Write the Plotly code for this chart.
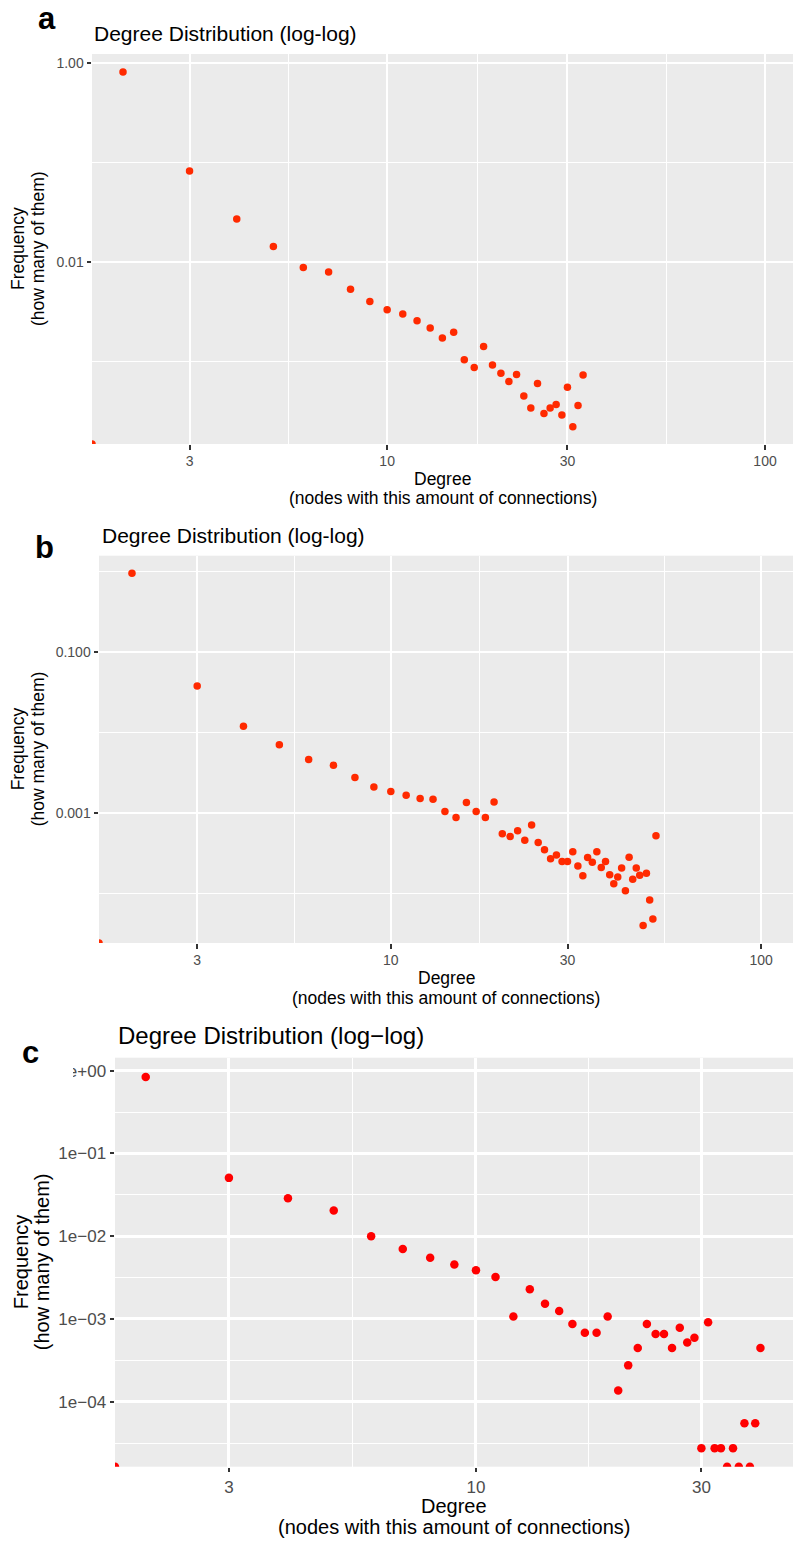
import numpy as np
import plotly.graph_objects as go

# ---- degree distributions (degree, relative frequency); 0 means "no nodes" ----
deg_a = [0, 2, 3, 4, 5, 6, 7, 8, 9, 10, 11, 12, 13, 14, 15, 16, 17, 18, 19, 20,
         21, 22, 23, 24, 25, 26, 27, 28, 29, 30, 31, 32, 33]
freq_a = [0, 0.81, 0.082, 0.027, 0.0143, 0.0088, 0.0079, 0.0053, 0.0040, 0.0033,
          0.0030, 0.00257, 0.00217, 0.00172, 0.00196, 0.00104, 0.00087, 0.00141,
          0.00092, 0.00076, 0.00063, 0.00074, 0.00045, 0.00034, 0.00060, 0.00030,
          0.00034, 0.00037, 0.00029, 0.00055, 0.00022, 0.00036, 0.00073]

deg_b = [0, 2, 3, 4, 5, 6, 7, 8, 9, 10, 11, 12, 13, 14, 15, 16, 17, 18, 19, 20,
         21, 22, 23, 24, 25, 26, 27, 28, 29, 30, 31, 32, 33, 34, 35, 36, 37, 38,
         39, 40, 41, 42, 43, 44, 45, 46, 47, 48, 49, 50, 51, 52]
freq_b = [0, 0.936, 0.0376, 0.0119, 0.0070, 0.0046, 0.0039, 0.00275, 0.0021,
          0.00184, 0.00166, 0.00151, 0.00148, 0.00104, 0.00088, 0.00135, 0.00104,
          0.00088, 0.00137, 0.00055, 0.00051, 0.00060, 0.00046, 0.00071, 0.00043,
          0.00035, 0.00027, 0.00030, 0.00025, 0.00025, 0.00033, 0.00022, 0.000166,
          0.00028, 0.000245, 0.00033, 0.00021, 0.00025, 0.000171, 0.000132,
          0.000161, 0.000207, 0.000108, 0.000283, 0.000151, 0.000207, 0.000169,
          0.0000403, 0.000179, 0.000083, 0.0000483, 0.00052]

deg_c = [0, 2, 3, 4, 5, 6, 7, 8, 9, 10, 11, 12, 13, 14, 15, 16, 17, 18, 19, 20,
         21, 22, 23, 24, 25, 26, 27, 28, 29, 30, 31, 32, 33, 34, 35, 36, 37, 38,
         39, 40]
freq_c = [0, 0.84, 0.0507, 0.0288, 0.0205, 0.0100, 0.0070, 0.0055, 0.00455,
          0.00388, 0.00322, 0.00107, 0.00229, 0.00153, 0.00125, 0.00087, 0.00068,
          0.00068, 0.00107, 0.000137, 0.000275, 0.000446, 0.00087, 0.000657,
          0.000657, 0.000446, 0.000785, 0.000521, 0.000594, 0.0000275, 0.00091,
          0.0000275, 0.0000275, 0, 0.0000275, 0, 0.000055, 0, 0.000055, 0.000446]

# tick breaks and labels
xticks_ab = [3, 10, 30, 100]
xticks_c = [3, 10, 30]
xminor = [5.477, 17.32, 54.77]
yticks_a, ylab_a, yminor_a = [1, 0.01], ["1.00", "0.01"], [0.1, 0.001]
yticks_b, ylab_b, yminor_b = [0.1, 0.001], ["0.100", "0.001"], [1, 0.01, 0.0001]
yticks_c = [1, 0.1, 0.01, 0.001, 0.0001]
ylab_c = ["1e+00", "1e\u221201", "1e\u221202", "1e\u221203", "1e\u221204"]
yminor_c = [10 ** -0.5, 10 ** -1.5, 10 ** -2.5, 10 ** -3.5, 10 ** -4.5]

W, H = 793, 1542
FONT = "Liberation Sans, Arial, Helvetica, sans-serif"


def px(x):
    return x / W


def py(y):
    return 1 - y / H


panels = [
    # name, degrees, freqs, colour, marker size, plot box (px), log ranges, ticks
    dict(deg=deg_a, freq=freq_a, color="#FF2A00", msize=7.5,
         box=(92, 54, 793, 444), xr=[0.219, 2.074], yr=[-3.83, 0.09],
         xt=xticks_ab, yt=yticks_a, ytl=ylab_a, ym=yminor_a,
         tick=14, axt=17.5, title=21, gw=(2.2, 1.1)),
    dict(deg=deg_b, freq=freq_b, color="#FF2A00", msize=7.5,
         box=(99, 555.7, 793, 943), xr=[0.212, 2.086], yr=[-4.613, 0.19],
         xt=xticks_ab, yt=yticks_b, ytl=ylab_b, ym=yminor_b,
         tick=14, axt=17.5, title=21, gw=(2.2, 1.1)),
    dict(deg=deg_c, freq=freq_c, color="#FF0000", msize=8.5,
         box=(115, 1057.7, 793, 1466.7), xr=[0.236, 1.671], yr=[-4.785, 0.157],
         xt=xticks_c, yt=yticks_c, ytl=ylab_c, ym=yminor_c,
         tick=17, axt=20, title=24, gw=(2.5, 1.2)),
]

fig = go.Figure()
layout = {}
for i, p in enumerate(panels, start=1):
    sfx = "" if i == 1 else str(i)
    deg = np.asarray(p["deg"], dtype=float)
    freq = np.asarray(p["freq"], dtype=float)
    # log10(0) is -Inf: such points sit on the panel edge
    xs = np.where(deg > 0, deg, 10 ** p["xr"][0])
    ys = np.where(freq > 0, freq, 10 ** p["yr"][0])
    fig.add_trace(go.Scatter(
        x=xs, y=ys, mode="markers", xaxis="x" + sfx, yaxis="y" + sfx,
        marker=dict(color=p["color"], size=p["msize"], line=dict(width=0)),
        cliponaxis=True, showlegend=False, hoverinfo="x+y"))
    x0, y0, x1, y1 = p["box"]
    common = dict(showline=False, zeroline=False, ticks="outside", ticklen=4.5,
                  tickwidth=2, tickcolor="#333333", gridcolor="white",
                  gridwidth=p["gw"][0],
                  tickfont=dict(family=FONT, size=p["tick"], color="#4D4D4D"))
    layout["xaxis" + sfx] = dict(
        type="log", domain=[px(x0), px(x1)], range=p["xr"], anchor="y" + sfx,
        tickmode="array", tickvals=p["xt"], ticktext=[str(v) for v in p["xt"]],
        minor=dict(tickmode="array", tickvals=xminor, ticks="", showgrid=True,
                   gridcolor="white", gridwidth=p["gw"][1]),
        **common)
    layout["yaxis" + sfx] = dict(
        type="log", domain=[py(y1), py(y0)], range=p["yr"], anchor="x" + sfx,
        tickmode="array", tickvals=p["yt"], ticktext=p["ytl"],
        minor=dict(tickmode="array", tickvals=p["ym"], ticks="", showgrid=True,
                   gridcolor="white", gridwidth=p["gw"][1]),
        **common)

fig.update_layout(
    width=W, height=H, margin=dict(l=0, r=0, t=0, b=0),
    paper_bgcolor="white", plot_bgcolor="#EBEBEB",
    font=dict(family=FONT, color="black"), **layout)

# panel backgrounds for the 2nd/3rd subplots
for i, p in enumerate(panels[1:], start=2):
    pass

ann = []


def text(x, y, s, size, bold=False, xanchor="center", angle=0, color="black"):
    ann.append(dict(x=px(x), y=py(y), xref="paper", yref="paper", text=s,
                    showarrow=False, xanchor=xanchor, yanchor="middle",
                    textangle=angle,
                    font=dict(family=FONT, size=size, color=color,
                              weight="bold" if bold else "normal")))


# panel letters
text(47, 19, "a", 31, bold=True)
text(44.5, 547, "b", 31, bold=True)
text(30, 1052, "c", 31, bold=True)

# titles
text(92, 33, "Degree Distribution (log-log)", 21, xanchor="left")
text(100, 535, "Degree Distribution (log-log)", 21, xanchor="left")
text(115.5, 1035, "Degree Distribution (log\u2212log)", 24, xanchor="left")

# axis titles
for p, (xt1, xt2, yl1, yl2) in zip(panels, [(479, 498, 18, 38),
                                           (978, 997.5, 18, 38),
                                           (1506, 1526.5, 21, 42)]):
    x0, y0, x1, y1 = p["box"]
    cx, cy = (x0 + x1) / 2, (y0 + y1) / 2
    text(cx, xt1, "Degree", p["axt"])
    text(cx, xt2, "(nodes with this amount of connections)", p["axt"])
    text(yl1, cy, "Frequency", p["axt"], angle=-90)
    text(yl2, cy, "(how many of them)", p["axt"], angle=-90)

fig.update_layout(annotations=ann)

# white patch behind the "c" letter, over the start of the top tick label
fig.add_shape(type="rect", xref="paper", yref="paper",
              x0=0, x1=px(73), y0=py(1085), y1=py(1040),
              fillcolor="white", line=dict(width=0), layer="above")

fig.write_html("out.html")
